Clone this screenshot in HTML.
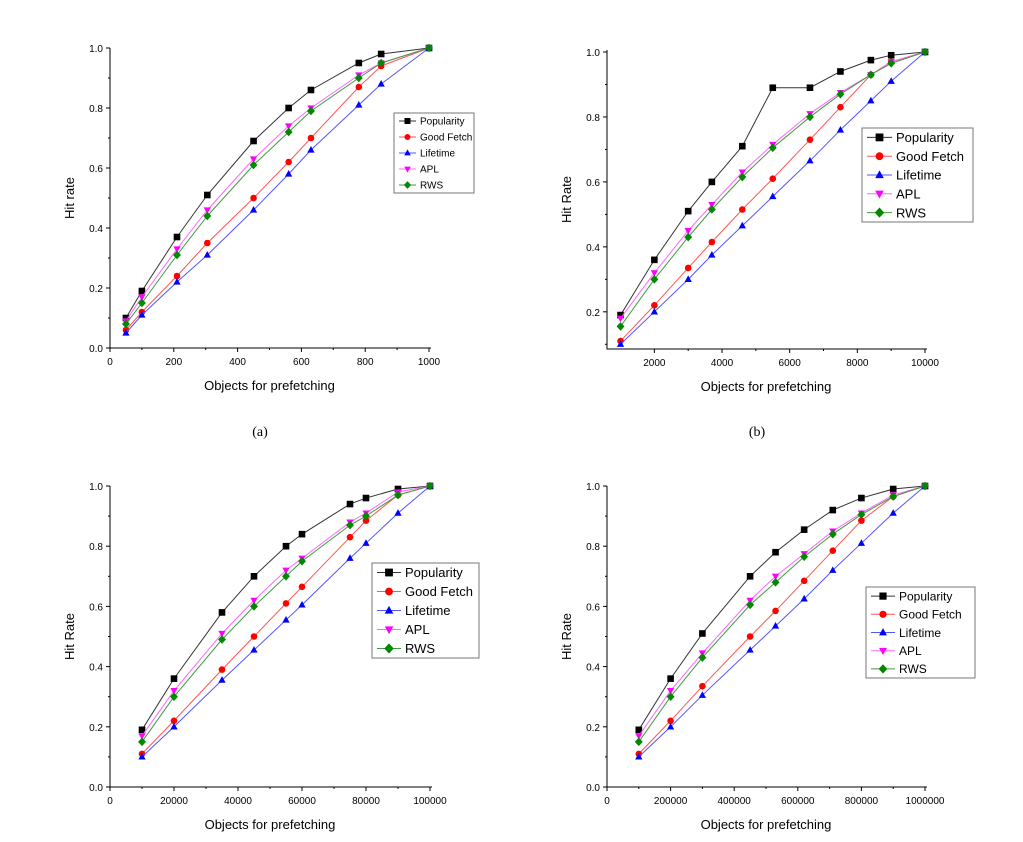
<!DOCTYPE html>
<html><head><meta charset="utf-8"><style>
body{margin:0;background:#fff;width:1023px;height:837px;overflow:hidden}
svg{font-family:"Liberation Sans",sans-serif}
</style></head><body>
<svg id="s" width="1023" height="837" xmlns="http://www.w3.org/2000/svg">
<text x="260" y="436" font-family="Liberation Serif" font-size="14" text-anchor="middle">(a)</text>
<text x="757" y="436" font-family="Liberation Serif" font-size="14" text-anchor="middle">(b)</text>
</svg>
<script>
const seriesNames=["Popularity","Good Fetch","Lifetime","APL","RWS"];
const xA=[50,100,210,305,450,560,630,780,850,1000];
const popA=[.10,.19,.37,.51,.69,.80,.86,.95,.98,1.0];
const gfA=[.06,.12,.24,.35,.50,.62,.70,.87,.94,1.0];
const ltA=[.05,.11,.22,.31,.46,.58,.66,.81,.88,1.0];
const aplA=[.09,.17,.33,.46,.63,.74,.80,.91,.95,1.0];
const rwsA=[.08,.15,.31,.44,.61,.72,.79,.90,.95,1.0];
const xB=[1000,2000,3000,3700,4600,5500,6600,7500,8400,9000,10000];
const popB=[.19,.36,.51,.60,.71,.89,.89,.94,.975,.99,1.0];
const gfB=[.11,.22,.335,.415,.515,.61,.73,.83,.93,.97,1.0];
const ltB=[.10,.20,.30,.375,.465,.555,.665,.76,.85,.91,1.0];
const aplB=[.18,.32,.45,.53,.63,.715,.81,.875,.93,.97,1.0];
const rwsB=[.155,.30,.43,.515,.615,.705,.80,.87,.93,.965,1.0];
const xC=[10000,20000,35000,45000,55000,60000,75000,80000,90000,100000];
const popC=[.19,.36,.58,.70,.80,.84,.94,.96,.99,1.0];
const gfC=[.11,.22,.39,.50,.61,.665,.83,.885,.97,1.0];
const ltC=[.10,.20,.355,.455,.555,.605,.76,.81,.91,1.0];
const aplC=[.17,.32,.51,.62,.72,.76,.88,.91,.98,1.0];
const rwsC=[.15,.30,.49,.60,.70,.75,.87,.90,.97,1.0];
const xD=[100000,200000,300000,450000,530000,620000,710000,800000,900000,1000000];
const popD=[.19,.36,.51,.70,.78,.855,.92,.96,.99,1.0];
const gfD=[.11,.22,.335,.50,.585,.685,.785,.885,.965,1.0];
const ltD=[.10,.20,.305,.455,.535,.625,.72,.81,.91,1.0];
const aplD=[.17,.32,.445,.62,.70,.775,.85,.91,.97,1.0];
const rwsD=[.15,.30,.43,.605,.68,.765,.84,.905,.965,1.0];
const xTicksA=[0,200,400,600,800,1000];
const xTicksB=[2000,4000,6000,8000,10000];
const xTicksC=[0,20000,40000,60000,80000,100000];
const xTicksD=[0,200000,400000,600000,800000,1000000];
const yTicksA=[0,.2,.4,.6,.8,1.0];
const yTicksB=[.2,.4,.6,.8,1.0];

const S=document.getElementById('s');
const NS="http://www.w3.org/2000/svg";
function el(t,a,p){const e=document.createElementNS(NS,t);for(const k in a)e.setAttribute(k,a[k]);(p||S).appendChild(e);return e;}
const colors=["#000","#f00","#00f","#f0f","#080"];
const lineCol=["#333","#f55","#55f","#f6f","#494"];
function marker(g,k,x,y,r){
  let m;
  if(k==0)m=el('rect',{x:x-r,y:y-r,width:2*r,height:2*r,fill:colors[0]},g);
  else if(k==1)m=el('circle',{cx:x,cy:y,r:r,fill:colors[1]},g);
  else if(k==2)m=el('polygon',{points:`${x},${y-r*1.2} ${x-r*1.1},${y+r*.8} ${x+r*1.1},${y+r*.8}`,fill:colors[2]},g);
  else if(k==3)m=el('polygon',{points:`${x},${y+r*1.2} ${x-r*1.1},${y-r*.8} ${x+r*1.1},${y-r*.8}`,fill:colors[3]},g);
  else m=el('polygon',{points:`${x},${y-r*1.3} ${x+r*1.2},${y} ${x},${y+r*1.3} ${x-r*1.2},${y}`,fill:colors[4]},g);
  return m;
}
function panel(id,P){
  const g=el('g',{});
  
  
  const sx=v=>P.x0+(v-P.xmin)/(P.xmax-P.xmin)*(P.x1-P.x0);
  const sy=v=>P.y0-(v-P.ymin)/(P.ymax-P.ymin)*(P.y0-P.y1);
  const ax=el('path',{d:`M${P.x0},${P.top} V${P.y0} H${P.x1+2}`,stroke:'#000',fill:'none','stroke-width':1},g);
  
  
  P.xt.forEach((v,i)=>{
    const x=sx(v);
    el('line',{x1:x,x2:x,y1:P.y0,y2:P.y0+4,stroke:'#000'},g);
    if(i<P.xt.length-1){const xm=sx(v+(P.xt[1]-P.xt[0])/2);el('line',{x1:xm,x2:xm,y1:P.y0,y2:P.y0+2,stroke:'#000'},g);}
    const t=el('text',{x:x,y:P.y0+17,'font-size':10,'text-anchor':'middle'},g);t.textContent=v;
    
    
  });
  P.yt.forEach((v,i)=>{
    const y=sy(v);
    el('line',{x1:P.x0-4,x2:P.x0,y1:y,y2:y,stroke:'#000'},g);
    const ym=sy(v-0.1);if(ym<=P.y0)el('line',{x1:P.x0-2,x2:P.x0,y1:ym,y2:ym,stroke:'#000'},g);
    const t=el('text',{x:P.x0-7,y:y+4,'font-size':10,'text-anchor':'end'},g);t.textContent=v.toFixed(1);
    
    
  });
  const xl=el('text',{x:(P.x0+P.x1)/2,y:P.y0+42,'font-size':13,'text-anchor':'middle'},g);xl.textContent='Objects for prefetching';
  
  
  const yc=(P.y0+P.top)/2;
  const yl=el('text',{x:P.x0-36,y:yc,'font-size':13,'text-anchor':'middle',transform:`rotate(-90 ${P.x0-36} ${yc})`},g);yl.textContent=P.ylab;
  
  
  P.series.forEach((ys,k)=>{
    const pl=el('polyline',{points:P.xs.map((v,i)=>sx(v)+','+sy(ys[i])).join(' '),fill:'none',stroke:lineCol[k],'stroke-width':1},g);
    
    
    P.xs.forEach((v,i)=>{const m=marker(g,k,sx(v),sy(ys[i]),3.3);
      
      });
  });
  const L=P.leg;
  const lb=el('rect',{x:L.x,y:L.y,width:L.w,height:L.h,fill:'#fff',stroke:'#777'},g);
  
  
  const dy=L.h/5;
  seriesNames.forEach((n,k)=>{
    const yy=L.y+dy*(k+.5);
    el('line',{x1:L.x+5,x2:L.x+L.lw,y1:yy,y2:yy,stroke:lineCol[k]},g);
    marker(g,k,L.x+5+(L.lw-5)/2,yy,L.fs*0.3);
    const t=el('text',{x:L.x+L.lw+4,y:yy+L.fs*0.36,'font-size':L.fs},g);t.textContent=n;
    
    
  });
}
panel('a',{x0:110,x1:429,xmin:0,xmax:1000,y0:348,y1:48,top:48,ymin:0,ymax:1,xt:xTicksA,yt:yTicksA,xs:xA,series:[popA,gfA,ltA,aplA,rwsA],ylab:'Hit rate',leg:{x:394,y:113,w:80,h:80,lw:22,fs:10}});
panel('b',{x0:607,x1:925,xmin:600,xmax:10000,y0:349,y1:52,top:50,ymin:0.0855,ymax:1,xt:xTicksB,yt:yTicksB,xs:xB,series:[popB,gfB,ltB,aplB,rwsB],ylab:'Hit Rate',leg:{x:862,y:128,w:111,h:94,lw:30,fs:13}});
panel('c',{x0:110,x1:430,xmin:0,xmax:100000,y0:787,y1:486,top:486,ymin:0,ymax:1,xt:xTicksC,yt:yTicksA,xs:xC,series:[popC,gfC,ltC,aplC,rwsC],ylab:'Hit Rate',leg:{x:372,y:563,w:107,h:95,lw:29,fs:13}});
panel('d',{x0:607,x1:925,xmin:0,xmax:1000000,y0:787,y1:486,top:486,ymin:0,ymax:1,xt:xTicksD,yt:yTicksA,xs:xD,series:[popD,gfD,ltD,aplD,rwsD],ylab:'Hit Rate',leg:{x:866,y:587,w:109,h:91,lw:29,fs:12}});
</script>
</body></html>
